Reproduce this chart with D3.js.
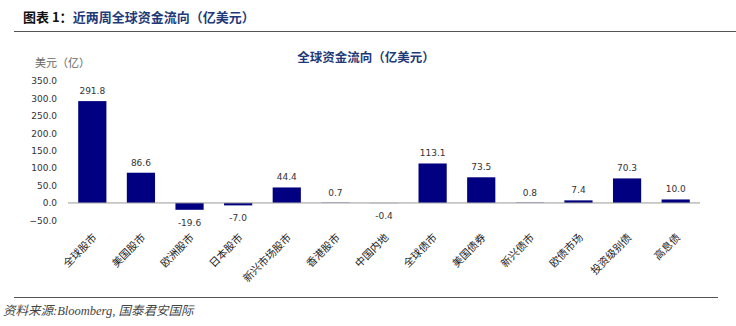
<!DOCTYPE html>
<html><head><meta charset="utf-8">
<script src="https://cdn.jsdelivr.net/npm/d3@7"></script>
<style>
html,body{margin:0;padding:0;background:#fff;}
svg{display:block;}
</style></head>
<body>
<svg id="c" width="736" height="326"></svg>
<script>
const categories = ["全球股市","美国股市","欧洲股市","日本股市","新兴市场股市","香港股市","中国内地","全球债市","美国债券","新兴债市","欧债市场","投资级别债","高息债"];
const values = [291.8, 86.6, -19.6, -7.0, 44.4, 0.7, -0.4, 113.1, 73.5, 0.8, 7.4, 70.3, 10.0];
const yTicks = [-50, 0, 50, 100, 150, 200, 250, 300, 350];
const headerPrefix = "图表 1：";
const headerText = "近两周全球资金流向（亿美元）";
const chartTitle = "全球资金流向（亿美元）";
const unitLabel = "美元（亿）";
const sourceText = "资料来源:Bloomberg, 国泰君安国际";

const svg = d3.select("#c");
const navy = "#000080";
const cjk = "'Noto Sans CJK SC', 'Noto Sans', sans-serif";

// header
const h = svg.append("text").attr("x", 23).attr("y", 22)
  .attr("font-family", cjk).attr("font-size", 13).attr("font-weight", "bold");
h.append("tspan").attr("fill", "#111").text(headerPrefix);
h.append("tspan").attr("fill", "#1f3a78").text(headerText);
svg.append("line").attr("x1", 14).attr("x2", 736).attr("y1", 31.5).attr("y2", 31.5)
  .attr("stroke", "#555").attr("stroke-width", 1.2);

// chart title
svg.append("text").attr("x", 366).attr("y", 62).attr("text-anchor", "middle")
  .attr("font-family", cjk).attr("font-size", 12.5).attr("font-weight", "bold")
  .attr("fill", "#1f3a78").text(chartTitle);

// unit label
svg.append("text").attr("x", 35).attr("y", 67)
  .attr("font-family", cjk).attr("font-size", 11).attr("fill", "#666").text(unitLabel);

const x = d3.scaleBand().domain(categories).range([68, 700]).paddingInner(0.42).paddingOuter(0.21);
const y = d3.scaleLinear().domain([-50, 350]).range([220.4, 80.8]);

// y axis tick labels
const yAxis = d3.axisLeft(y).tickValues(yTicks).tickFormat(d3.format(".1f")).tickSize(0).tickPadding(0);
const ya = svg.append("g").attr("transform", "translate(57,0)").call(yAxis);
ya.select(".domain").remove();
ya.selectAll("text").attr("font-family", "'DejaVu Sans', sans-serif").attr("font-size", 9).attr("fill", "#333");

// bars
svg.append("g").selectAll("rect").data(values).join("rect")
  .attr("x", (d, i) => x(categories[i]))
  .attr("width", x.bandwidth())
  .attr("y", d => y(Math.max(0, d)))
  .attr("height", d => Math.abs(y(d) - y(0)))
  .attr("fill", navy);

// zero line
svg.append("line").attr("x1", 68).attr("x2", 700).attr("y1", y(0)).attr("y2", y(0))
  .attr("stroke", "#9a9a9a").attr("stroke-width", 1);

// value labels
svg.append("g").selectAll("text").data(values).join("text")
  .attr("x", (d, i) => x(categories[i]) + x.bandwidth() / 2)
  .attr("y", d => d >= 0 ? y(d) - 7 : y(d) + 16)
  .attr("text-anchor", "middle")
  .attr("font-family", "'DejaVu Sans', sans-serif").attr("font-size", 9).attr("fill", "#333")
  .text(d => d.toFixed(1));

// category labels
svg.append("g").selectAll("text").data(categories).join("text")
  .attr("transform", d => `translate(${x(d) + x.bandwidth() / 2 + 2},235) rotate(-45)`)
  .attr("text-anchor", "end")
  .attr("dominant-baseline", "central")
  .attr("font-family", cjk).attr("font-size", 10.5).attr("fill", "#222")
  .text(d => d);

// bottom line & source
svg.append("line").attr("x1", 14).attr("x2", 718).attr("y1", 297.5).attr("y2", 297.5)
  .attr("stroke", "#555").attr("stroke-width", 1.2);
svg.append("text").attr("x", 3).attr("y", 315)
  .attr("font-family", "'Liberation Serif', 'Noto Sans CJK SC', serif").attr("font-style", "italic")
  .attr("font-size", 12.5).attr("fill", "#444").text(sourceText);
</script>
</body></html>
